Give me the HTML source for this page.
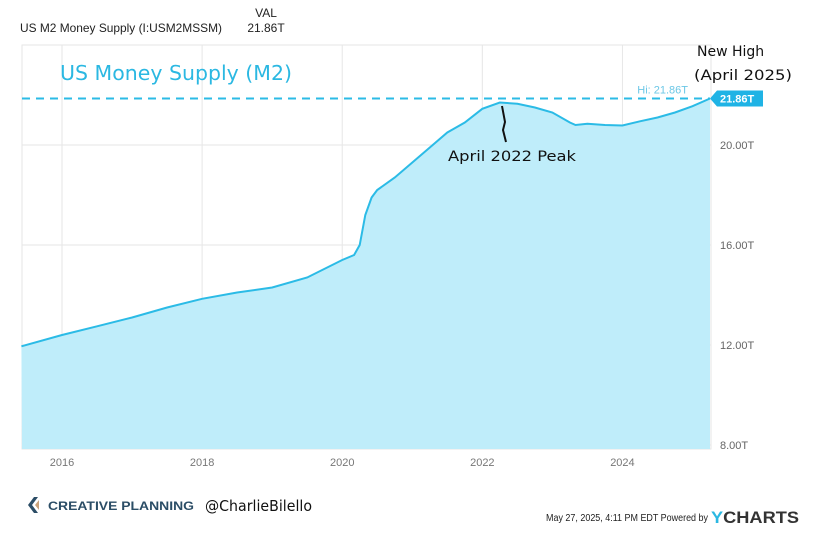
<!DOCTYPE html>
<html><head><meta charset="utf-8"><style>
body{margin:0;background:#fff;width:825px;height:544px;overflow:hidden;font-family:"Liberation Sans",sans-serif}
svg{display:block}
</style></head><body>
<svg width="825" height="544" id="chart">
<text x="20" y="32" font-size="12" fill="#222" textLength="202" lengthAdjust="spacingAndGlyphs">US M2 Money Supply (I:USM2MSSM)</text>
<text x="266" y="17" font-size="12" fill="#222" text-anchor="middle">VAL</text>
<text x="266" y="32" font-size="12" fill="#222" text-anchor="middle">21.86T</text>
<g id="grid"></g>
<g id="plot"></g>
<text x="60" y="80" font-size="20" fill="#2bb8e2" font-family="DejaVu Sans,sans-serif" textLength="232" lengthAdjust="spacingAndGlyphs">US Money Supply (M2)</text>
<text x="448" y="161" font-size="14" fill="#111" font-family="DejaVu Sans,sans-serif" textLength="128" lengthAdjust="spacingAndGlyphs">April 2022 Peak</text>
<path d="M502 106 L505 122 L503 130 L506 142" stroke="#111" stroke-width="2" fill="none"/>
<text x="697" y="56" font-size="14" fill="#111" font-family="DejaVu Sans,sans-serif">New High</text>
<text x="694" y="80" font-size="14" fill="#111" font-family="DejaVu Sans,sans-serif" textLength="98" lengthAdjust="spacingAndGlyphs">(April 2025)</text>
<g>
<path d="M34 497 L28 505 L34 513 L38 513 L32 505 L38 497 Z" fill="#2b4d66"/>
<path d="M35 505 L39 500 L39 510 Z" fill="#c9a27a"/>
<text x="48" y="510" font-size="11.5" font-weight="bold" fill="#2b4d66" textLength="146" lengthAdjust="spacingAndGlyphs">CREATIVE PLANNING</text>
</g>
<text x="205" y="511" font-size="15" fill="#111" font-family="DejaVu Sans,sans-serif" textLength="107" lengthAdjust="spacingAndGlyphs">@CharlieBilello</text>
<text x="546" y="521" font-size="10" fill="#222" textLength="162" lengthAdjust="spacingAndGlyphs">May 27, 2025, 4:11 PM EDT Powered by</text>
<text x="711" y="523" font-size="17" font-weight="bold" fill="#333" textLength="88" lengthAdjust="spacingAndGlyphs"><tspan fill="#2bb8e2">Y</tspan>CHARTS</text>
</svg>
<script>
const years=[2015.42,2016.0,2016.5,2017.0,2017.5,2018.0,2018.5,2019.0,2019.5,2020.0,2020.17,2020.25,2020.33,2020.42,2020.5,2020.75,2021.0,2021.25,2021.5,2021.75,2022.0,2022.25,2022.5,2022.75,2023.0,2023.25,2023.33,2023.5,2023.75,2024.0,2024.25,2024.5,2024.75,2025.0,2025.25];
const values=[11.95,12.4,12.75,13.1,13.5,13.85,14.1,14.3,14.7,15.4,15.6,16.0,17.2,17.9,18.2,18.7,19.3,19.9,20.5,20.9,21.45,21.7,21.65,21.5,21.3,20.9,20.8,20.85,20.8,20.78,20.95,21.1,21.3,21.55,21.86];
const yTicks=[8,12,16,20];
const xTicks=[2016,2018,2020,2022,2024];
const hiValue=21.86;
const NS='http://www.w3.org/2000/svg';
const L=22,R=711,T=45,B=449;
const x=t=>62+(t-2016)*(648/9.25);
const y=v=>145+(20-v)*25;
const grid=document.getElementById('grid'),plot=document.getElementById('plot');
function mk(tag,attrs,parent){const e=document.createElementNS(NS,tag);for(const k in attrs)e.setAttribute(k,attrs[k]);parent.appendChild(e);return e;}
const frame=mk('rect',{x:L,y:T,width:R-L,height:B-T,fill:'none',stroke:'#e6e6e6'},grid);


yTicks.forEach(v=>{
 const ln=mk('line',{x1:L,x2:R,y1:y(v),y2:y(v),stroke:'#e6e6e6'},grid);
 
 
 const t=mk('text',{x:720,y:y(v)+4,'font-size':11,fill:'#666'},grid);
 t.textContent=v.toFixed(2)+'T';
 
 
});
xTicks.forEach(v=>{
 const ln=mk('line',{x1:x(v),x2:x(v),y1:T,y2:B,stroke:'#e6e6e6'},grid);
 
 
 const t=mk('text',{x:x(v),y:466,'font-size':11,fill:'#777','text-anchor':'middle'},grid);
 t.textContent=v;
 
 
});
let d='';years.forEach((t,i)=>{d+=(i?'L':'M')+x(t).toFixed(1)+' '+y(values[i]).toFixed(1)+' ';});
const xs=L, xe=x(years[years.length-1]);
const area=mk('path',{d:'M'+xs+' '+B+' L'+d.slice(1)+'L'+xe+' '+B+' Z',fill:'#bfedfa'},plot);


const line=mk('path',{d:d,fill:'none',stroke:'#2bbbe6','stroke-width':2},plot);


const hl=mk('line',{x1:L,x2:xe,y1:y(hiValue),y2:y(hiValue),stroke:'#2bbbe6','stroke-width':2,'stroke-dasharray':'8,6'},plot);


const hlab=mk('text',{x:xe-22,y:y(hiValue)-5,'font-size':11,fill:'#6cc7e6','text-anchor':'end'},plot);
hlab.textContent='Hi: '+hiValue.toFixed(2)+'T';


const tag=mk('path',{d:`M${xe} ${y(hiValue)} L${xe+7} ${y(hiValue)-8} L${xe+53} ${y(hiValue)-8} L${xe+53} ${y(hiValue)+8} L${xe+7} ${y(hiValue)+8} Z`,fill:'#1fb3e5'},plot);


const tt=mk('text',{x:xe+10,y:y(hiValue)+4,'font-size':11,'font-weight':'bold',fill:'#fff'},plot);
tt.textContent=values[values.length-1].toFixed(2)+'T';


</script>
</body></html>
